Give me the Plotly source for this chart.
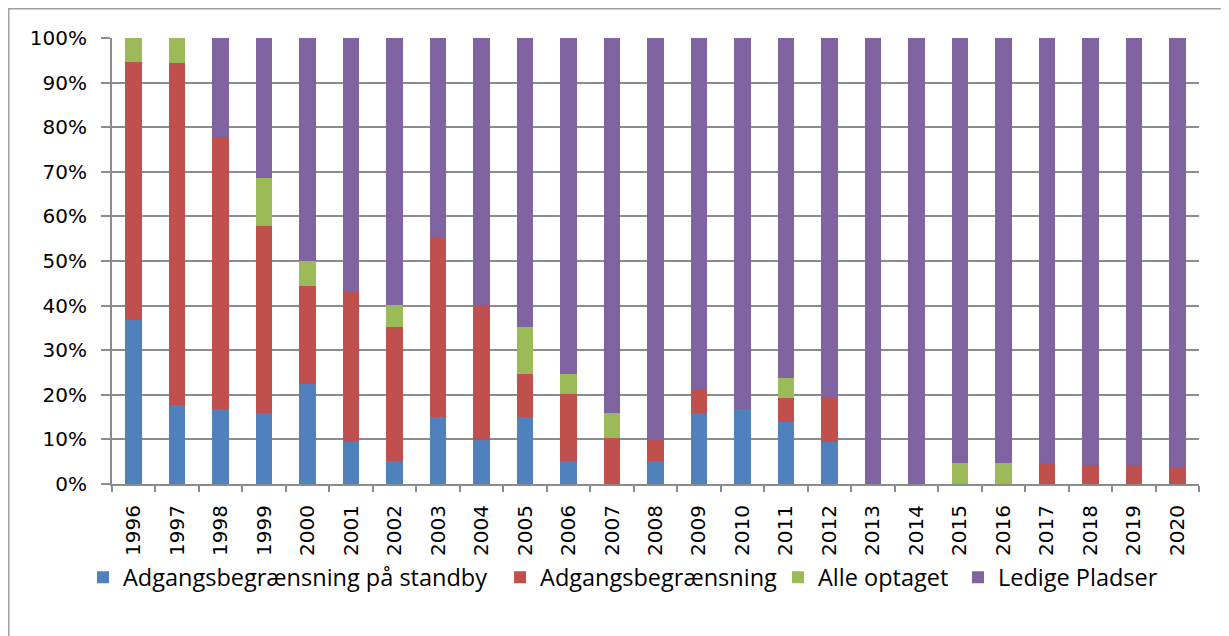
import plotly.graph_objects as go

years = [str(y) for y in range(1996, 2021)]

standby = [36.9, 17.8, 16.9, 15.9, 22.5, 9.4, 5.2, 15.0, 9.9, 15.0, 5.2, 0, 5.2,
           15.9, 16.9, 14.0, 9.4, 0, 0, 0, 0, 0, 0, 0, 0]
begraensning = [57.9, 76.5, 61.0, 42.0, 21.8, 33.6, 29.9, 40.1, 30.2, 9.7, 14.9, 10.3, 4.7,
                5.2, 0, 5.2, 9.8, 0, 0, 0, 0, 4.7, 4.3, 4.3, 3.7]
alle_optaget = [5.3, 5.7, 0, 10.7, 5.7, 0, 5.0, 0, 0, 10.4, 4.6, 5.6, 0,
                0, 0, 4.6, 0, 0, 0, 4.7, 4.7, 0, 0, 0, 0]
ledige = [0, 0, 22.1, 31.4, 50.0, 57.0, 59.9, 44.9, 59.9, 64.9, 75.3, 84.1, 90.1,
          78.9, 83.1, 76.2, 80.8, 100, 100, 95.3, 95.3, 95.3, 95.7, 95.7, 96.3]

series_names = ["Adgangsbegrænsning på standby", "Adgangsbegrænsning", "Alle optaget", "Ledige Pladser"]
series_values = [standby, begraensning, alle_optaget, ledige]
series_colors = ["#4F81BD", "#C0504D", "#9BBB59", "#8064A2"]
legend_ids = ["legend", "legend2", "legend3", "legend4"]
legend_x = [-0.0267, 0.357, 0.6127, 0.7783]

fig = go.Figure()
for name, vals, col, lid in zip(series_names, series_values, series_colors, legend_ids):
    fig.add_trace(go.Bar(x=years, y=vals, name=name, legend=lid,
                         marker=dict(color=col, line=dict(width=0))))

grid = "#8C8C8C"
L, R, T, B = 104, 38, 30, 160
PW, PH = 1229 - L - R, 636 - T - B

legend_common = dict(orientation="h", xanchor="left", y=-0.16, yanchor="top",
                     font=dict(family="Open Sans", size=23.5, color="#000000"),
                     itemwidth=30, bgcolor="rgba(0,0,0,0)")
layout_legends = {}
for lid, lx in zip(legend_ids, legend_x):
    layout_legends[lid] = dict(x=lx, **legend_common)

fig.update_layout(
    barmode="stack",
    barnorm="percent",
    bargap=0.62,
    width=1229, height=636,
    margin=dict(l=L, r=R, t=T, b=B, autoexpand=False),
    paper_bgcolor="white", plot_bgcolor="white",
    font=dict(family="DejaVu Sans", size=20, color="#000000"),
    showlegend=True,
    xaxis=dict(type="category", showgrid=False, showline=True, linecolor=grid, linewidth=2,
               ticks="outside", tickson="boundaries", ticklen=6, tickwidth=2, tickcolor=grid,
               tickangle=-90, tickfont=dict(family="DejaVu Sans", size=20, color="#000"),
               ticklabelstandoff=11),
    yaxis=dict(range=[0, 100], dtick=10, ticksuffix="%", showgrid=True, gridcolor=grid, gridwidth=2,
               showline=True, linecolor=grid, linewidth=2, zeroline=False,
               ticks="outside", ticklen=9, tickwidth=2, tickcolor=grid,
               tickfont=dict(family="DejaVu Sans", size=20, color="#000"),
               ticklabelstandoff=10),
    shapes=[dict(type="rect", xref="paper", yref="paper",
                 x0=(0.75 - L) / PW, x1=(1219 - L) / PW,
                 y0=(PH + T - 700) / PH, y1=(PH + T - 0.75) / PH,
                 line=dict(color="#A0A0A0", width=1.5), fillcolor="rgba(0,0,0,0)", layer="below")],
    **layout_legends,
)

fig.write_html("out.html")
